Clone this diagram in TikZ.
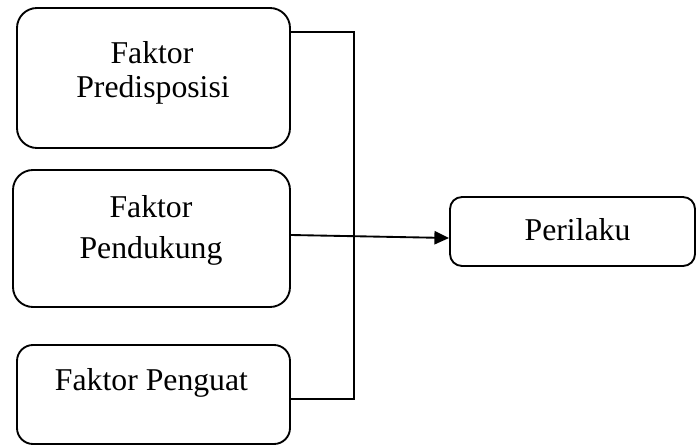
\documentclass[tikz,border=0pt]{standalone}
\usepackage{fontspec}
\setmainfont{Liberation Serif}
\usetikzlibrary{fit,arrows.meta}
\begin{document}
\begin{tikzpicture}[x=0.75pt,y=-0.75pt,
  box/.style={draw,line width=1.4pt,inner sep=0pt,rounded corners=#1},
  box/.default=15pt,
  lbl/.style={anchor=base,inner sep=0pt,font=\fontsize{23.8}{26}\selectfont},
  wire/.style={line width=1.4pt}]
\useasboundingbox (0,0) rectangle (697,446);
% factor boxes
\node[box=15pt,fit={(17,8)(290,148)}] (b1) {};
\node[box=15pt,fit={(13,170)(290,307)}] (b2) {};
\node[box=12pt,fit={(17,345)(290,444)}] (b3) {};
\node[box=9pt,fit={(450,197)(695,266)}] (p) {};
% labels
\node[lbl] (t1a) at (152,63) {Faktor};
\node[lbl] (t1b) at (153,97) {Predisposisi};
\node[lbl] (t2a) at (151,217) {Faktor};
\node[lbl] (t2b) at (151,258) {Pendukung};
\node[lbl] (t3) at (151.5,390) {Faktor Penguat};
\node[lbl] (tp) at (577.5,240) {Perilaku};
% bracket joining the first and last factor
\coordinate (jt) at (354,32);
\coordinate (jb) at (354,399);
\draw[wire] (b1.east |- jt) -- (jt) -- (jb) -- (b3.east |- jb);
% arrow to behaviour
\coordinate (as) at (0,235);
\coordinate (ae) at (0,238);
\draw[wire,-{Triangle[length=11pt,width=10pt]}] (b2.east |- as) -- (p.west |- ae);
\end{tikzpicture}
\end{document}
